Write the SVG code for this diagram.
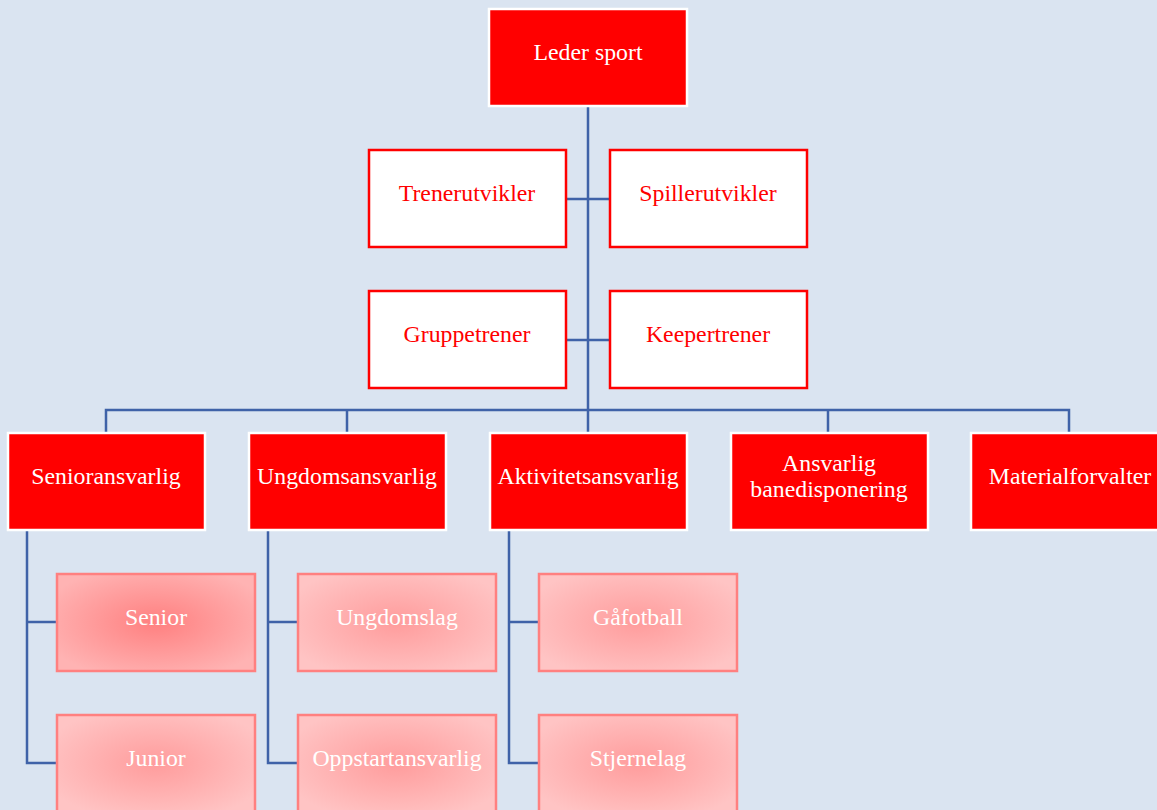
<svg xmlns="http://www.w3.org/2000/svg" width="1157" height="810" viewBox="0 0 1157 810">
<defs>
<radialGradient id="g1" cx="0.5" cy="0.5" r="0.6">
<stop offset="0" stop-color="#ff8080"/>
<stop offset="1" stop-color="#ffb3b3"/>
</radialGradient>
<radialGradient id="g2" cx="0.5" cy="0.5" r="0.6">
<stop offset="0" stop-color="#ff9c9c"/>
<stop offset="1" stop-color="#ffc4c4"/>
</radialGradient>
<style>
text{font-family:"Liberation Serif","Times New Roman",serif;font-size:23.8px;text-anchor:middle;dominant-baseline:central}
.red rect{fill:#ff0000;stroke:#ffffff;stroke-width:2.5}
.red text{fill:#ffffff}
.wht rect{fill:#ffffff;stroke:#ff0000;stroke-width:2.5}
.wht text{fill:#ff0000}
.pink rect{stroke:#ff8080;stroke-width:2.5}
.pink text{fill:#ffffff}
.conn{fill:none;stroke:#3f62a8;stroke-width:2.5}
</style>
</defs>
<rect width="1157" height="810" fill="#dae4f1"/>
<g id="connectors" class="conn">
<path d="M588 107V410"/>
<path d="M567 199H609M567 340H609"/>
<path d="M106 432V410H1069V432M347 410V432M588 410V432M828 410V432"/>
<path d="M27 531V763H56M27 622H56"/>
<path d="M268 531V763H297M268 622H297"/>
<path d="M509 531V763H538M509 622H538"/>
</g>
<g id="leder" class="red"><rect x="489" y="9" width="198" height="97"/><text x="588" y="52">Leder sport</text></g>
<g id="trenerutvikler" class="wht"><rect x="369" y="150" width="197" height="97"/><text x="467" y="193">Trenerutvikler</text></g>
<g id="spillerutvikler" class="wht"><rect x="610" y="150" width="197" height="97"/><text x="708" y="193">Spillerutvikler</text></g>
<g id="gruppetrener" class="wht"><rect x="369" y="291" width="197" height="97"/><text x="467" y="334">Gruppetrener</text></g>
<g id="keepertrener" class="wht"><rect x="610" y="291" width="197" height="97"/><text x="708" y="334">Keepertrener</text></g>
<g id="senioransvarlig" class="red"><rect x="8" y="433" width="197" height="97"/><text x="106" y="476">Senioransvarlig</text></g>
<g id="ungdomsansvarlig" class="red"><rect x="249" y="433" width="197" height="97"/><text x="347" y="476">Ungdomsansvarlig</text></g>
<g id="aktivitetsansvarlig" class="red"><rect x="490" y="433" width="197" height="97"/><text x="588" y="476">Aktivitetsansvarlig</text></g>
<g id="banedisponering" class="red"><rect x="731" y="433" width="197" height="97"/><text x="829" y="463">Ansvarlig</text><text x="829" y="489">banedisponering</text></g>
<g id="materialforvalter" class="red"><rect x="971" y="433" width="197" height="97"/><text x="1070" y="476">Materialforvalter</text></g>
<g id="senior" class="pink"><rect x="57" y="574" width="198" height="97" fill="url(#g1)"/><text x="156" y="617">Senior</text></g>
<g id="junior" class="pink"><rect x="57" y="715" width="198" height="97" fill="url(#g2)"/><text x="156" y="758">Junior</text></g>
<g id="ungdomslag" class="pink"><rect x="298" y="574" width="198" height="97" fill="url(#g2)"/><text x="397" y="617">Ungdomslag</text></g>
<g id="oppstartansvarlig" class="pink"><rect x="298" y="715" width="198" height="97" fill="url(#g2)"/><text x="397" y="758">Oppstartansvarlig</text></g>
<g id="gafotball" class="pink"><rect x="539" y="574" width="198" height="97" fill="url(#g2)"/><text x="638" y="617">Gåfotball</text></g>
<g id="stjernelag" class="pink"><rect x="539" y="715" width="198" height="97" fill="url(#g2)"/><text x="638" y="758">Stjernelag</text></g>
</svg>
